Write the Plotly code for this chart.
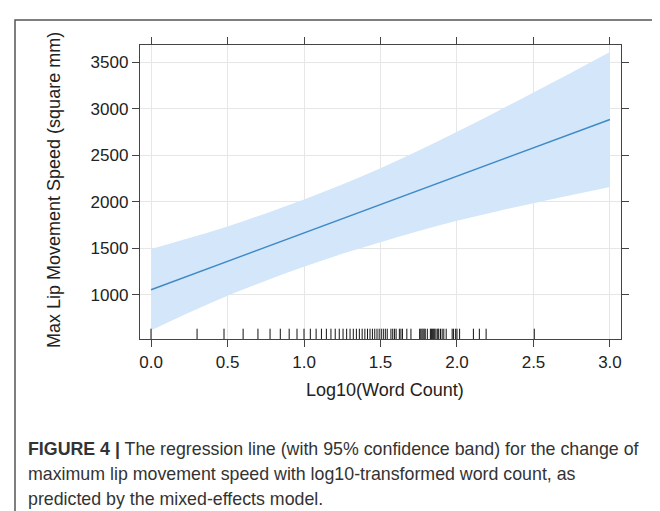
import math
import plotly.graph_objects as go

# ---- data ----
x_grid = [0.0, 0.25, 0.5, 0.75, 1.0, 1.25, 1.5, 1.75, 2.0, 2.25, 2.5, 2.75, 3.0]
fit = [1054, 1207, 1359, 1512, 1664, 1817, 1969, 2122, 2274, 2427, 2580, 2732, 2885]
upper = [1491, 1610, 1735, 1875, 2025, 2185, 2360, 2550, 2752, 2961, 3175, 3391, 3610]
lower = [617, 810, 990, 1150, 1300, 1440, 1565, 1685, 1796, 1893, 1985, 2073, 2160]

word_counts = [1, 2, 3, 4, 5, 6, 7, 8, 9, 10, 11, 12, 13, 14, 15, 16, 17, 18, 19,
               20, 21, 22, 23, 24, 25, 26, 27, 28, 29, 30, 31, 32, 33, 34, 35, 37,
               38, 39, 40, 42, 43, 44, 47, 50, 57, 58, 59, 60, 61, 62, 64, 67, 68,
               69, 70, 71, 72, 74, 75, 76, 78, 80, 82, 85, 93, 95, 98, 100, 104,
               128, 140, 155, 320]
rug_x = [math.log10(n) for n in word_counts]

x_ticks = [0.0, 0.5, 1.0, 1.5, 2.0, 2.5, 3.0]
x_tick_labels = ["0.0", "0.5", "1.0", "1.5", "2.0", "2.5", "3.0"]
y_ticks = [1000, 1500, 2000, 2500, 3000, 3500]

caption_lines = [
    "<b>FIGURE 4 |</b> The regression line (with 95% confidence band) for the change of",
    "maximum lip movement speed with log10-transformed word count, as",
    "predicted by the mixed-effects model.",
]

W, H = 660, 511
L, R, T, B = 132, 613, 37, 331
FONT = "Liberation Sans, Arial, Helvetica"

def px(xp):
    return (xp - L) / (R - L)

def py(yp):
    return (B - yp) / (B - T)

fig = go.Figure()
fig.add_trace(go.Scatter(x=x_grid, y=upper, mode="lines", line=dict(width=0, color="rgba(0,0,0,0)", shape="spline"),
                         showlegend=False, hoverinfo="skip"))
fig.add_trace(go.Scatter(x=x_grid, y=lower, mode="lines", line=dict(width=0, color="rgba(0,0,0,0)", shape="spline"),
                         fill="tonexty", fillcolor="#d3e6fa", showlegend=False, hoverinfo="skip"))
fig.add_trace(go.Scatter(x=x_grid, y=fit, mode="lines", line=dict(width=1.4, color="#3f8ac6"),
                         showlegend=False))

shapes = []
for rx in rug_x:
    shapes.append(dict(type="line", xref="x", yref="paper", x0=rx, x1=rx, y0=0, y1=0.035,
                       line=dict(color="#111111", width=1)))
# outer frame
shapes.append(dict(type="rect", xref="paper", yref="paper", x0=px(7), x1=px(653), y0=py(530), y1=py(12),
                   line=dict(color="#555555", width=1.5), fillcolor="rgba(0,0,0,0)", layer="below"))

annotations = [
    dict(text="Log10(Word Count)", xref="paper", yref="paper", x=px(377), y=py(382),
         xanchor="center", yanchor="middle", showarrow=False,
         font=dict(family=FONT, size=18, color="#222222")),
    dict(text="Max Lip Movement Speed (square mm)", xref="paper", yref="paper", x=px(46), y=py(182),
         xanchor="center", yanchor="middle", textangle=-90, showarrow=False,
         font=dict(family=FONT, size=18, color="#222222")),
]
for i, line in enumerate(caption_lines):
    annotations.append(dict(text=line, xref="paper", yref="paper", x=px(18), y=py(441 + 25 * i),
                            xanchor="left", yanchor="middle", showarrow=False, align="left",
                            font=dict(family=FONT, size=17.8, color="#333333")))

axis_common = dict(showline=True, linecolor="#444444", linewidth=1.3, mirror="ticks",
                   ticks="outside", ticklen=7, tickcolor="#444444", tickwidth=1.2,
                   showgrid=True, gridcolor="#e6e6e6", gridwidth=1, zeroline=False,
                   tickfont=dict(family=FONT, size=17, color="#222222"))

fig.update_layout(
    width=W, height=H,
    margin=dict(l=L, r=W - R, t=T, b=H - B),
    paper_bgcolor="white", plot_bgcolor="white",
    xaxis=dict(range=[-0.072, 3.072], tickvals=x_ticks, ticktext=x_tick_labels, **axis_common),
    yaxis=dict(range=[524, 3686], tickvals=y_ticks, **axis_common),
    shapes=shapes, annotations=annotations, showlegend=False,
)

fig.write_html("out.html")
